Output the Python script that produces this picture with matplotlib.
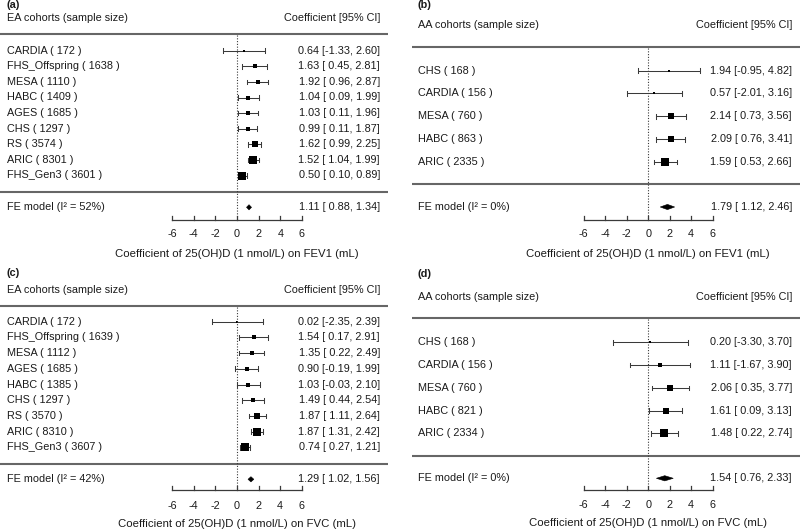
import numpy as np
import matplotlib
matplotlib.use("Agg")
import matplotlib.pyplot as plt

plt.rcParams['font.family'] = ['Liberation Sans', 'DejaVu Sans']

# (a) EA, FEV1
a_names = ["CARDIA", "FHS_Offspring", "MESA", "HABC", "AGES", "CHS", "RS", "ARIC", "FHS_Gen3"]
a_n = [172, 1638, 1110, 1409, 1685, 1297, 3574, 8301, 3601]
a_est = [0.64, 1.63, 1.92, 1.04, 1.03, 0.99, 1.62, 1.52, 0.50]
a_lb = [-1.33, 0.45, 0.96, 0.09, 0.11, 0.11, 0.99, 1.04, 0.10]
a_ub = [2.60, 2.81, 2.87, 1.99, 1.96, 1.87, 2.25, 1.99, 0.89]
a_fe = (1.11, 0.88, 1.34)
a_i2 = 52

# (b) AA, FEV1
b_names = ["CHS", "CARDIA", "MESA", "HABC", "ARIC"]
b_n = [168, 156, 760, 863, 2335]
b_est = [1.94, 0.57, 2.14, 2.09, 1.59]
b_lb = [-0.95, -2.01, 0.73, 0.76, 0.53]
b_ub = [4.82, 3.16, 3.56, 3.41, 2.66]
b_fe = (1.79, 1.12, 2.46)
b_i2 = 0

# (c) EA, FVC
c_names = ["CARDIA", "FHS_Offspring", "MESA", "AGES", "HABC", "CHS", "RS", "ARIC", "FHS_Gen3"]
c_n = [172, 1639, 1112, 1685, 1385, 1297, 3570, 8310, 3607]
c_est = [0.02, 1.54, 1.35, 0.90, 1.03, 1.49, 1.87, 1.87, 0.74]
c_lb = [-2.35, 0.17, 0.22, -0.19, -0.03, 0.44, 1.11, 1.31, 0.27]
c_ub = [2.39, 2.91, 2.49, 1.99, 2.10, 2.54, 2.64, 2.42, 1.21]
c_fe = (1.29, 1.02, 1.56)
c_i2 = 42

# (d) AA, FVC
d_names = ["CHS", "CARDIA", "MESA", "HABC", "ARIC"]
d_n = [168, 156, 760, 821, 2334]
d_est = [0.20, 1.11, 2.06, 1.61, 1.48]
d_lb = [-3.30, -1.67, 0.35, 0.09, 0.22]
d_ub = [3.70, 3.90, 3.77, 3.13, 2.74]
d_fe = (1.54, 0.76, 2.33)
d_i2 = 0

ticks = [-6, -4, -2, 0, 2, 4, 6]
FS = 7.8
TXT = '#1a1a1a'
LN = '#3a3a3a'

fig = plt.figure(figsize=(8, 5.31), dpi=100)
W, H = 800, 531


def panel(tag, group, outcome, names, n, est, lb, ub, fe, i2, lay):
    pl, pr, pt, pb = lay['box']
    zero, s = lay['zero'], lay['scale']
    ax = fig.add_axes([pl / W, 1 - pb / H, (pr - pl) / W, (pb - pt) / H])
    ax.set_xlim((pl - zero) / s, (pr - zero) / s)
    ax.set_ylim(pb, pt)
    ax.axis('off')
    xd = lambda px: (px - zero) / s

    ax.text(xd(lay['lx']), lay['tag'], tag, fontsize=FS, fontweight='bold',
            va='center', ha='left', color=TXT)
    ax.text(xd(lay['lx']), lay['head'], f"{group} cohorts (sample size)", fontsize=FS,
            va='center', ha='left', color=TXT)
    ax.text(xd(lay['rx']), lay['head'], "Coefficient [95% CI]", fontsize=FS,
            va='center', ha='right', color=TXT)
    for yy in (lay['rule1'], lay['rule2']):
        ax.plot([xd(lay['rl']), xd(lay['rr'])], [yy, yy], color='#666666', lw=1.5,
                clip_on=False, solid_capstyle='butt')

    est, lb, ub = np.array(est), np.array(lb), np.array(ub)
    ys = lay['row0'] + lay['step'] * np.arange(len(names))
    se = (ub - lb) / 3.92
    wi = 1 / se
    psize = (wi - wi.min()) / (wi.max() - wi.min()) + 0.5
    cap = 2.3
    for i in range(len(names)):
        y = ys[i]
        ax.text(xd(lay['lx']), y, f"{names[i]} ( {n[i]} )", fontsize=FS,
                va='center', ha='left', color=TXT)
        ax.text(xd(lay['rx']), y, f"{est[i]:.2f} [{lb[i]:5.2f}, {ub[i]:.2f}]",
                fontsize=FS, va='center', ha='right', color=TXT)
        ax.plot([lb[i], ub[i]], [y, y], color=LN, lw=0.75)
        ax.plot([lb[i], lb[i]], [y - cap, y + cap], color=LN, lw=0.75)
        ax.plot([ub[i], ub[i]], [y - cap, y + cap], color=LN, lw=0.75)
        ax.plot(est[i], y, 's', color='black', ms=lay['sq'] * psize[i] * 0.72, mew=0)

    fy = lay['fe']
    f_est, f_lb, f_ub = fe
    ax.fill([f_lb, f_est, f_ub, f_est], [fy, fy - 2.6, fy, fy + 2.6], color='black', lw=0.4)
    ax.text(xd(lay['lx']), fy, f"FE model (I\u00b2 = {i2}%)", fontsize=FS,
            va='center', ha='left', color=TXT)
    ax.text(xd(lay['rx']), fy, f"{f_est:.2f} [{f_lb:5.2f}, {f_ub:.2f}]", fontsize=FS,
            va='center', ha='right', color=TXT)

    ax.plot([0, 0], [lay['rule1'] + 1, lay['axis']], color=LN, lw=0.8,
            linestyle=(0, (1, 1.5)))
    ay = lay['axis']
    ax.plot([ticks[0], ticks[-1]], [ay, ay], color=LN, lw=0.9, clip_on=False)
    for t in ticks:
        ax.plot([t, t], [ay, ay - 4.5], color=LN, lw=0.9, clip_on=False)
        ax.text(t, lay['tl'], f"{t}", fontsize=FS, ha='center', va='center', color=TXT)
    ax.text(0, lay['xl'], f"Coefficient of 25(OH)D (1 nmol/L) on {outcome} (mL)",
            fontsize=FS + 0.4, ha='center', va='center', color=TXT)


lay_a = dict(box=(0, 400, 0, 265), zero=237, scale=10.83, lx=7, rx=380, rl=0, rr=388,
             tag=5, head=18.3, rule1=34, row0=50.7, step=15.6, rule2=191.7, fe=207.3,
             axis=220, tl=234, xl=254, sq=5.8)
lay_b = dict(box=(400, 800, 0, 265), zero=648.2, scale=10.75, lx=418, rx=792, rl=412, rr=800,
             tag=5, head=25, rule1=47, row0=70.5, step=22.9, rule2=184, fe=207,
             axis=220, tl=234, xl=254, sq=4.8)
lay_c = dict(box=(0, 400, 265, 531), zero=237, scale=10.8, lx=7, rx=380, rl=0, rr=388,
             tag=273, head=290, rule1=305.7, row0=321.7, step=15.7, rule2=464, fe=479.3,
             axis=490, tl=506, xl=524, sq=5.8)
lay_d = dict(box=(400, 800, 265, 531), zero=648.2, scale=10.75, lx=418, rx=792, rl=412, rr=800,
             tag=274, head=297.3, rule1=318.3, row0=342.3, step=22.75, rule2=456, fe=478.3,
             axis=490.3, tl=505, xl=523.3, sq=4.8)

panel("(a)", "EA", "FEV1", a_names, a_n, a_est, a_lb, a_ub, a_fe, a_i2, lay_a)
panel("(b)", "AA", "FEV1", b_names, b_n, b_est, b_lb, b_ub, b_fe, b_i2, lay_b)
panel("(c)", "EA", "FVC", c_names, c_n, c_est, c_lb, c_ub, c_fe, c_i2, lay_c)
panel("(d)", "AA", "FVC", d_names, d_n, d_est, d_lb, d_ub, d_fe, d_i2, lay_d)

fig.savefig("out.png", dpi=100, facecolor='white')
